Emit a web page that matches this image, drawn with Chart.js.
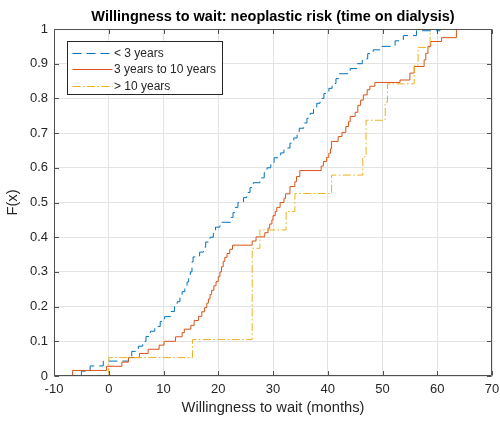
<!DOCTYPE html>
<html>
<head>
<meta charset="utf-8">
<script src="https://cdn.jsdelivr.net/npm/chart.js@4.4.1/dist/chart.umd.min.js"></script>
<style>
  html, body { margin: 0; padding: 0; background: #ffffff; }
  #wrap { width: 500px; height: 422px; }
</style>
</head>
<body>
<div id="wrap"><canvas id="ecdf" width="500" height="422"></canvas></div>
<script>
// Group names (legend order)
const groupLabels = ['< 3 years', '3 years to 10 years', '> 10 years'];

// Empirical CDF steps: waiting time (months) where F jumps, and F after the jump
const under3X = [-5.0, -5.0, -3.4, -1.0, 3.6, 4.2, 5.4, 6.2, 6.8, 7.6, 8.4, 9.4, 10.2, 11.3, 12.0, 12.5, 13.0, 13.4, 13.9, 14.3, 14.6, 14.9, 15.2, 15.4, 16.6, 17.3, 17.7, 18.5, 19.1, 19.5, 20.3, 22.2, 22.7, 23.1, 23.6, 24.6, 25.2, 25.8, 26.4, 27.6, 28.4, 28.9, 29.6, 30.2, 31.4, 32.0, 33.1, 33.8, 34.4, 34.8, 35.6, 36.2, 36.8, 37.4, 38.0, 38.6, 39.3, 40.2, 40.8, 41.5, 42.0, 44.1, 45.4, 46.3, 47.3, 48.3, 49.8, 52.3, 53.8, 56.2, 60.5];
const under3F = [0, 0.014, 0.029, 0.043, 0.057, 0.071, 0.086, 0.100, 0.114, 0.129, 0.143, 0.157, 0.171, 0.186, 0.200, 0.214, 0.229, 0.243, 0.257, 0.271, 0.286, 0.300, 0.329, 0.343, 0.357, 0.371, 0.386, 0.400, 0.414, 0.429, 0.443, 0.457, 0.471, 0.486, 0.500, 0.514, 0.529, 0.543, 0.557, 0.571, 0.586, 0.600, 0.614, 0.629, 0.643, 0.657, 0.671, 0.686, 0.700, 0.714, 0.729, 0.743, 0.757, 0.771, 0.786, 0.800, 0.814, 0.829, 0.843, 0.857, 0.871, 0.886, 0.900, 0.914, 0.929, 0.940, 0.950, 0.966, 0.981, 0.995, 1.000];

const mid3to10X = [-6.6, -6.6, -0.4, 2.4, 3.6, 5.6, 7.2, 9.2, 10.1, 12.2, 13.4, 13.8, 15.0, 15.6, 16.4, 17.0, 17.5, 17.9, 18.2, 18.5, 18.8, 19.2, 19.6, 20.0, 20.3, 20.6, 20.9, 21.2, 21.6, 22.1, 22.6, 26.2, 26.9, 28.5, 29.1, 29.4, 29.8, 30.0, 30.4, 30.7, 31.3, 32.0, 32.3, 33.1, 34.0, 34.3, 34.9, 38.8, 39.2, 39.8, 40.2, 40.5, 40.7, 41.9, 42.6, 43.3, 43.8, 44.1, 45.0, 45.5, 46.0, 46.5, 47.2, 47.7, 48.6, 53.2, 55.0, 55.8, 57.6, 57.9, 58.3, 58.8, 60.8, 63.5];
const mid3to10F = [0, 0.016, 0.028, 0.040, 0.053, 0.065, 0.077, 0.089, 0.100, 0.113, 0.125, 0.135, 0.146, 0.160, 0.172, 0.185, 0.197, 0.210, 0.222, 0.235, 0.247, 0.260, 0.272, 0.286, 0.300, 0.315, 0.330, 0.342, 0.353, 0.365, 0.377, 0.389, 0.401, 0.413, 0.426, 0.438, 0.450, 0.462, 0.474, 0.486, 0.500, 0.512, 0.525, 0.546, 0.560, 0.575, 0.592, 0.605, 0.618, 0.630, 0.642, 0.655, 0.676, 0.690, 0.702, 0.719, 0.733, 0.748, 0.760, 0.780, 0.795, 0.810, 0.825, 0.835, 0.846, 0.853, 0.873, 0.892, 0.911, 0.930, 0.950, 0.964, 0.975, 1.000];

const over10X = [0, 0, 15.3, 26.2, 27.6, 32.4, 34.0, 40.7, 46.4, 47.0, 50.5, 50.9, 55.8, 56.5, 58.7];
const over10F = [0, 0.053, 0.105, 0.368, 0.421, 0.474, 0.526, 0.579, 0.632, 0.737, 0.789, 0.842, 0.895, 0.947, 1.000];

// Axis ticks
const xTicks = [-10, 0, 10, 20, 30, 40, 50, 60, 70];
const yTicks = [0, 0.1, 0.2, 0.3, 0.4, 0.5, 0.6, 0.7, 0.8, 0.9, 1];

const seriesColors = ['#0072BD', '#D95319', '#EDB120'];
const seriesDash = [[9, 5], [], [8, 2.5, 1.5, 2.5]];
const FONT = '"Liberation Sans", Arial, Helvetica, sans-serif';
const AXIS_COLOR = '#505050';
const TEXT_COLOR = '#262626';

function toPoints(xs, fs) {
  return xs.map((x, i) => ({ x: x, y: fs[i] }));
}

const seriesData = [
  toPoints(under3X, under3F),
  toPoints(mid3to10X, mid3to10F),
  toPoints(over10X, over10F)
];

// Box around the plot with inward tick marks on all four sides
const boxAndTicks = {
  id: 'boxAndTicks',
  afterDatasetsDraw(chart) {
    const { ctx, chartArea: a, scales } = chart;
    const L = Math.round(a.left) + 0.5, R = Math.round(a.right) - 0.5;
    const T = Math.round(a.top) + 0.5, B = Math.round(a.bottom) - 0.5;
    const len = 4.5;
    ctx.save();
    ctx.strokeStyle = AXIS_COLOR;
    ctx.lineWidth = 1;
    ctx.beginPath();
    ctx.rect(L, T, R - L, B - T);
    xTicks.forEach(v => {
      const px = Math.round(scales.x.getPixelForValue(v)) + 0.5;
      ctx.moveTo(px, B); ctx.lineTo(px, B - len);
      ctx.moveTo(px, T); ctx.lineTo(px, T + len);
    });
    yTicks.forEach(v => {
      const py = Math.round(scales.y.getPixelForValue(v)) + 0.5;
      ctx.moveTo(L, py); ctx.lineTo(L + len, py);
      ctx.moveTo(R, py); ctx.lineTo(R - len, py);
    });
    ctx.stroke();
    ctx.restore();
  }
};

// Legend drawn inside the upper-left corner of the plot
const insideLegend = {
  id: 'insideLegend',
  afterDraw(chart) {
    const { ctx, chartArea: a } = chart;
    const x0 = Math.round(a.left) + 13.5, y0 = Math.round(a.top) + 12.5;
    const w = 155, h = 53;
    ctx.save();
    ctx.fillStyle = '#ffffff';
    ctx.fillRect(x0, y0, w, h);
    ctx.strokeStyle = TEXT_COLOR;
    ctx.lineWidth = 1;
    ctx.strokeRect(x0, y0, w, h);
    ctx.font = '12px ' + FONT;
    ctx.textBaseline = 'middle';
    ctx.textAlign = 'left';
    chart.data.datasets.forEach((ds, i) => {
      const y = Math.round(y0 + 11 + i * 16.5) + 0.5;
      ctx.strokeStyle = ds.borderColor;
      ctx.setLineDash(ds.borderDash || []);
      ctx.lineWidth = 1;
      ctx.beginPath();
      ctx.moveTo(x0 + 5, y);
      ctx.lineTo(x0 + 45, y);
      ctx.stroke();
      ctx.setLineDash([]);
      ctx.fillStyle = TEXT_COLOR;
      ctx.fillText(ds.label, x0 + 46.5, y);
    });
    ctx.restore();
  }
};

new Chart(document.getElementById('ecdf'), {
  type: 'line',
  data: {
    datasets: groupLabels.map((label, i) => ({
      label: label,
      data: seriesData[i],
      borderColor: seriesColors[i],
      backgroundColor: seriesColors[i],
      borderDash: seriesDash[i],
      borderWidth: 1,
      // horizontal to the next jump, then vertical: the ECDF staircase
      stepped: 'before',
      pointRadius: 0,
      pointHoverRadius: 0,
      fill: false,
      order: 3 - i
    }))
  },
  options: {
    responsive: false,
    animation: false,
    events: [],
    layout: { padding: { left: 0, right: 8, top: 0, bottom: 0 } },
    plugins: {
      legend: { display: false },
      tooltip: { enabled: false },
      title: {
        display: true,
        fullSize: false,
        text: 'Willingness to wait: neoplastic risk (time on dialysis)',
        color: '#000000',
        font: { family: FONT, size: 14.5, weight: 'bold', lineHeight: 1.2 },
        padding: { top: 8, bottom: 3.6 }
      }
    },
    scales: {
      x: {
        type: 'linear',
        min: -10,
        max: 70,
        afterBuildTicks(scale) { scale.ticks = xTicks.map(v => ({ value: v })); },
        afterFit(scale) { scale.height = 46; scale.paddingLeft = 0; scale.paddingRight = 0; },
        ticks: {
          color: TEXT_COLOR,
          font: { family: FONT, size: 13 },
          padding: 6,
          maxRotation: 0,
          autoSkip: false,
          callback: v => String(v)
        },
        grid: { color: '#e3e3e3', lineWidth: 1, drawTicks: false },
        border: { display: false },
        title: {
          display: true,
          text: 'Willingness to wait (months)',
          color: TEXT_COLOR,
          font: { family: FONT, size: 14.7, lineHeight: 1.2 },
          padding: { top: 0, bottom: 5 }
        }
      },
      y: {
        type: 'linear',
        min: 0,
        max: 1,
        afterBuildTicks(scale) { scale.ticks = yTicks.map(v => ({ value: v })); },
        afterFit(scale) { scale.width = 54; scale.paddingTop = 0; scale.paddingBottom = 0; },
        ticks: {
          color: TEXT_COLOR,
          font: { family: FONT, size: 13 },
          padding: 6,
          autoSkip: false,
          callback: v => String(Math.round(v * 10) / 10)
        },
        grid: { color: '#e3e3e3', lineWidth: 1, drawTicks: false },
        border: { display: false },
        title: {
          display: true,
          text: 'F(x)',
          color: TEXT_COLOR,
          font: { family: FONT, size: 14.7, lineHeight: 1.2 },
          padding: { top: 4, bottom: 0 }
        }
      }
    }
  },
  plugins: [boxAndTicks, insideLegend]
});
</script>
</body>
</html>
